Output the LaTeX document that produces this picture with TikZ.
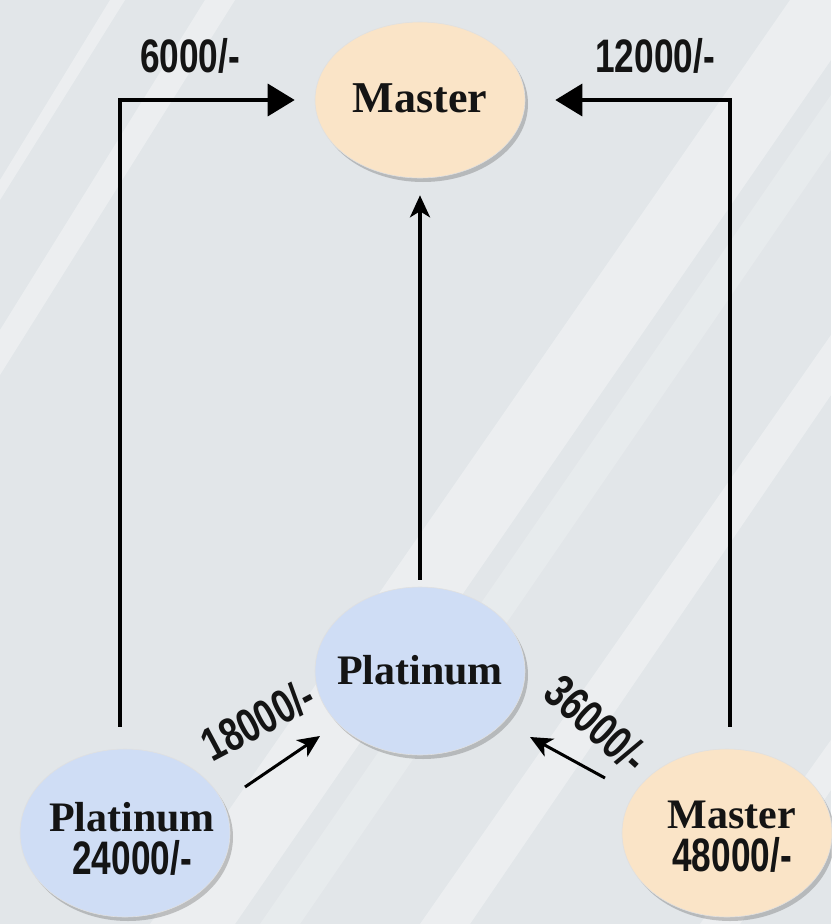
\documentclass[tikz,border=0pt]{standalone}
\usepackage{fontspec}
\setmainfont{Liberation Serif}
\newfontfamily\numfont[FakeStretch=0.75]{Liberation Sans}
\usetikzlibrary{shapes.geometric,arrows.meta,shadows,calc}
\definecolor{bgcol}{HTML}{E2E6E9}
\definecolor{peach}{HTML}{FAE4C7}
\definecolor{platblue}{HTML}{CFDDF5}
\begin{document}
\begin{tikzpicture}[x=1pt,y=-1pt,
  bubble/.style={ellipse, minimum width=210pt, minimum height=168pt, inner sep=0pt,
    draw=black!12, line width=0.6pt,
    drop shadow={shadow xshift=3pt, shadow yshift=-4pt, opacity=0.35, fill=black!60}},
  master/.style={bubble, fill=peach},
  plat/.style={bubble, fill=platblue},
  serlab/.style={font=\fontsize{42}{44}\selectfont\bfseries, text=black!92, inner sep=0pt, align=center},
  numlab/.style={font=\numfont\fontsize{47}{47}\selectfont\bfseries, text=black!92, inner sep=0pt},
  conn/.style={line width=3.5pt, draw=black},
  bigtip/.style={-{Triangle[length=27pt,width=32pt]}},
  smalltip/.style={-{Stealth[length=22pt,width=20pt,inset=6pt]}},
  streak/.style={fill=white, opacity=0.35, draw=none}]
% background
\fill[bgcol] (0,0) rectangle (831,924);
\useasboundingbox (0,0) rectangle (831,924);
\fill[streak] (0,180) -- (0,200) -- (125,0) -- (110,0) -- cycle;
\fill[streak] (0,330) -- (0,375) -- (235,0) -- (205,0) -- cycle;
\fill[streak] (150,924) -- (235,924) -- (831,60) -- (831,0) -- (790,0) -- cycle;
\fill[streak, opacity=0.2] (260,924) -- (300,924) -- (831,150) -- (831,95) -- cycle;
\fill[streak] (420,924) -- (470,924) -- (831,395) -- (831,335) -- cycle;
\fill[streak] (700,924) -- (740,924) -- (831,790) -- (831,740) -- cycle;

% ellipses
\node[master] (M1) at (420,100) [minimum height=156pt] {};
\node[plat]   (P1) at (420,671) {};
\node[plat]   (P2) at (125,833) {};
\node[master] (M2) at (727,833) {};

% texts in ellipses
\node[serlab, font=\fontsize{44}{46}\selectfont\bfseries] (tM1) at (420,98) {Master};
\node[serlab] (tP1) at (420,670) {Platinum};
\node[serlab] (tP2) at (132,839) {Platinum\\[-1pt]{\numfont\fontsize{47}{47}\selectfont 24000/-}};
\node[serlab] (tM2) at (732,837) {Master\\[-1pt]{\numfont\fontsize{47}{47}\selectfont 48000/-}};

% connectors
\draw[conn, bigtip] ([xshift=-5pt,yshift=22pt]P2.north) |- ([xshift=-20pt]M1.west);
\draw[conn, bigtip] ([xshift=3pt,yshift=22pt]M2.north) |- ([xshift=30pt]M1.east);
\draw[conn, smalltip] ([yshift=7pt]P1.north) -- ([yshift=-17pt]M1.south);

\coordinate (aL) at (245,787);
\coordinate (bL) at (320,736);
\coordinate (aR) at (605,778);
\coordinate (bR) at (530,737);
\draw[conn, smalltip, line width=3pt] (aL) -- (bL);
\draw[conn, smalltip, line width=3pt] (aR) -- (bR);

% price labels
\node[numlab] (l6)  at (190,56) {6000/-};
\node[numlab] (l12) at (655,56) {12000/-};
\node[numlab, rotate=28]  (l18) at (258,720) {18000/-};
\node[numlab, rotate=-42] (l36) at (597,724) {36000/-};
\end{tikzpicture}
\end{document}
